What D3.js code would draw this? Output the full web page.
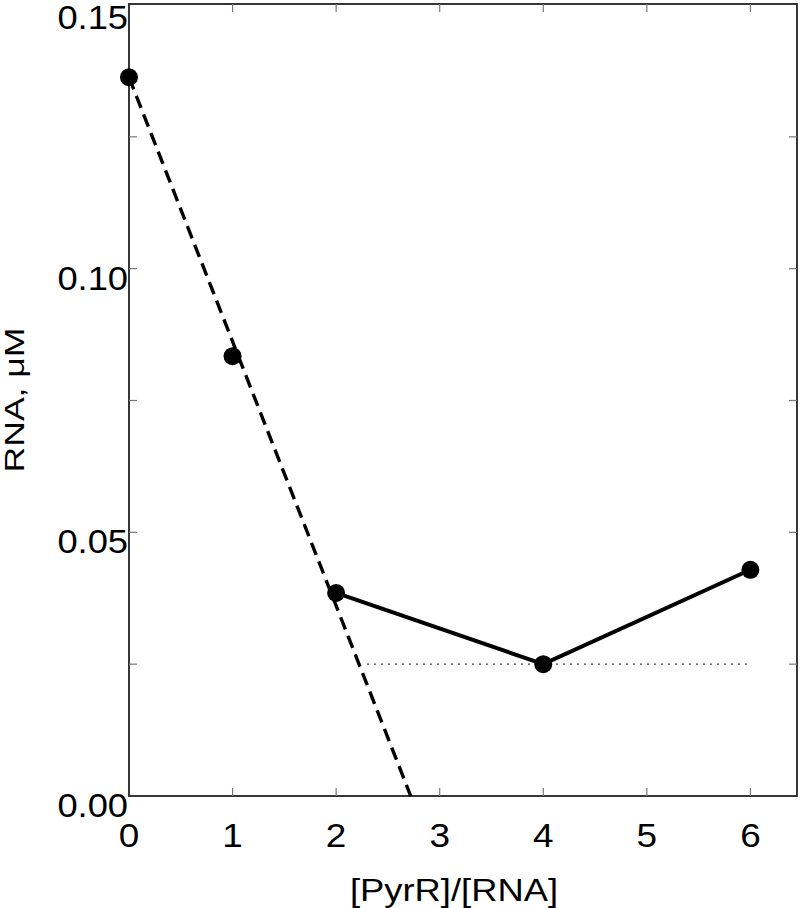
<!DOCTYPE html>
<html><head><meta charset="utf-8">
<script src="https://cdn.jsdelivr.net/npm/d3@7"></script>
<style>body{margin:0;background:#fff}svg{display:block}text{font-family:"Liberation Sans",Arial,sans-serif;fill:#000}</style>
</head><body><svg id="c" width="800" height="908"></svg>
<script>
const ratio = [0, 1, 2, 4, 6];
const rna = [0.1363, 0.0834, 0.0385, 0.0250, 0.0429];
const solidIdx = [2, 3, 4];
const dashX = [0, 2.72];
const dashY = [0.1363, 0];
const dotX = [2.3, 6];
const dotY = [0.025, 0.025];
const xTicks = [0, 1, 2, 3, 4, 5, 6];
const yTicks = [0, 0.05, 0.10, 0.15];
const yMinor = [0.025, 0.075, 0.125];

const svg = d3.select("#c");
const L = 129, R = 797, T = 4, B = 796;
const x = d3.scaleLinear().domain([0, 6.45]).range([L, R]);
const y = d3.scaleLinear().domain([0, 0.15]).range([B, T + 1]);

// frame
svg.append("rect").attr("x", L).attr("y", T).attr("width", R - L).attr("height", B - T)
  .attr("fill", "none").attr("stroke", "#222").attr("stroke-width", 1.8);

// inward ticks
const tk = svg.append("g").attr("stroke", "#777").attr("stroke-width", 1.2);
xTicks.slice(1).forEach(v => {
  tk.append("line").attr("x1", x(v)).attr("x2", x(v)).attr("y1", B).attr("y2", B - 8);
  tk.append("line").attr("x1", x(v)).attr("x2", x(v)).attr("y1", T).attr("y2", T + 8);
});
yTicks.slice(1, 3).concat(yMinor).forEach(v => {
  tk.append("line").attr("x1", L).attr("x2", L + 8).attr("y1", y(v)).attr("y2", y(v));
  tk.append("line").attr("x1", R).attr("x2", R - 8).attr("y1", y(v)).attr("y2", y(v));
});

// tick labels
svg.append("g").selectAll("text").data(xTicks).join("text")
  .attr("transform", d => `translate(${x(d)},847) scale(1.12,1)`).attr("text-anchor", "middle")
  .attr("font-size", 33).text(d => d);
svg.append("g").selectAll("text").data(yTicks).join("text")
  .attr("transform", d => `translate(128,${Math.max(y(d) + 21, 29)}) scale(1.1,1)`).attr("text-anchor", "end")
  .attr("font-size", 33).text(d => d3.format(".2f")(d));

// axis titles
svg.append("text").attr("x", 454).attr("y", 901).attr("text-anchor", "middle")
  .attr("font-size", 31).attr("textLength", 208).attr("lengthAdjust", "spacingAndGlyphs")
  .text("[PyrR]/[RNA]");
svg.append("text").attr("transform", "translate(24,400) rotate(-90)")
  .attr("text-anchor", "middle").attr("font-size", 28)
  .attr("textLength", 145).attr("lengthAdjust", "spacingAndGlyphs").text("RNA, μM");

// dashed fit
svg.append("path").datum(d3.zip(dashX, dashY))
  .attr("d", d3.line().x(d => x(d[0])).y(d => y(d[1])))
  .attr("fill", "none").attr("stroke", "#000").attr("stroke-width", 3.4)
  .attr("stroke-dasharray", "13,7");
// dotted plateau
svg.append("path").datum(d3.zip(dotX, dotY))
  .attr("d", d3.line().x(d => x(d[0])).y(d => y(d[1])))
  .attr("fill", "none").attr("stroke", "#000").attr("stroke-width", 1.3)
  .attr("stroke-dasharray", "1.5,5.5");
// solid connecting line
svg.append("path").datum(solidIdx.map(i => [ratio[i], rna[i]]))
  .attr("d", d3.line().x(d => x(d[0])).y(d => y(d[1])))
  .attr("fill", "none").attr("stroke", "#000").attr("stroke-width", 4);
// points
svg.append("g").selectAll("circle").data(ratio.map((r, i) => [r, rna[i]])).join("circle")
  .attr("cx", d => x(d[0])).attr("cy", d => y(d[1])).attr("r", 9).attr("fill", "#000");
</script></body></html>
